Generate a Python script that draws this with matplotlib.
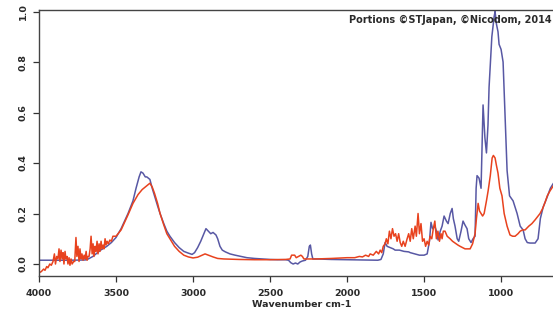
import matplotlib
matplotlib.use("Agg")
import matplotlib.pyplot as plt

plt.rcParams['font.family'] = ['DejaVu Sans']

# Blue spectrum (wavenumber, absorbance)
blue_wn = [4000, 3900, 3800, 3700, 3680, 3650, 3620, 3600, 3560, 3530, 3500, 3467, 3422, 3390,
           3370, 3350, 3338, 3325, 3310, 3300, 3290, 3280, 3265, 3250, 3230, 3214, 3190, 3170,
           3150, 3120, 3090, 3060, 3030, 3006, 2990, 2970, 2950, 2930, 2916, 2900, 2885, 2870,
           2851, 2840, 2825, 2810, 2790, 2760, 2727, 2690, 2650, 2600, 2550, 2500, 2450, 2400,
           2380, 2365, 2350, 2335, 2320, 2305, 2290, 2270, 2255, 2245, 2238, 2230, 2222, 2200,
           2100, 2000, 1900, 1800, 1780, 1765, 1753, 1740, 1720, 1700, 1688, 1660, 1630, 1600,
           1590, 1560, 1530, 1500, 1480, 1465, 1455, 1445, 1430, 1420, 1409, 1395, 1383, 1370,
           1355, 1344, 1330, 1318, 1310, 1299, 1285, 1275, 1260, 1247, 1235, 1221, 1210, 1195,
           1182, 1169, 1162, 1156, 1143, 1130, 1117, 1105, 1095, 1085, 1078, 1060, 1045, 1039,
           1030, 1020, 1013, 1000, 987, 975, 961, 945, 922, 896, 876, 857, 844, 830, 812, 779,
           760, 745, 727, 701, 680, 660, 620, 590]
blue_abs = [0.015, 0.015, 0.015, 0.016, 0.02, 0.03, 0.045, 0.055, 0.07, 0.085, 0.105, 0.14, 0.2, 0.25,
            0.3, 0.345, 0.365, 0.36, 0.345, 0.345, 0.34, 0.335, 0.3, 0.27, 0.23, 0.2, 0.16, 0.13,
            0.11, 0.085, 0.065, 0.05, 0.043, 0.038, 0.045, 0.065, 0.09, 0.12, 0.14, 0.13, 0.12, 0.125,
            0.115, 0.1, 0.07, 0.055, 0.048, 0.04, 0.035, 0.03, 0.025, 0.022, 0.02, 0.018, 0.017, 0.017,
            0.015, 0.005, 0.0, 0.004, 0.0, 0.008, 0.012, 0.015, 0.03, 0.07, 0.075, 0.04, 0.02, 0.02,
            0.018, 0.017, 0.016, 0.015, 0.018, 0.04, 0.085, 0.07, 0.065, 0.06, 0.055, 0.055, 0.05, 0.048,
            0.045, 0.04, 0.035, 0.035, 0.04, 0.09, 0.165, 0.14, 0.15, 0.13, 0.095, 0.13, 0.15, 0.19,
            0.17, 0.16, 0.2, 0.22, 0.18, 0.15, 0.1, 0.09, 0.13, 0.17, 0.155, 0.14, 0.1, 0.085,
            0.1, 0.11, 0.3, 0.35, 0.34, 0.3, 0.63, 0.5, 0.44, 0.55, 0.7, 0.9, 0.98, 1.0,
            0.95, 0.92, 0.87, 0.85, 0.8, 0.6, 0.37, 0.27, 0.25, 0.2, 0.15, 0.135, 0.1, 0.085, 0.083, 0.083,
            0.1, 0.18, 0.225, 0.265, 0.3, 0.32, 0.31, 0.3]

# Red spectrum (wavenumber, absorbance)
red_wn = [4000, 3985, 3970, 3961, 3950, 3942, 3930, 3920, 3909, 3900, 3893, 3885, 3877, 3870,
          3864, 3857, 3850, 3844, 3838, 3831, 3825, 3818, 3812, 3805, 3799, 3792, 3785, 3775,
          3768, 3760, 3754, 3747, 3740, 3734, 3727, 3721, 3714, 3707, 3701, 3694, 3688, 3682,
          3675, 3668, 3662, 3655, 3649, 3643, 3636, 3630, 3623, 3617, 3610, 3604, 3597, 3591,
          3584, 3578, 3571, 3565, 3558, 3550, 3540, 3530, 3520, 3500, 3467, 3422, 3390, 3357,
          3330, 3300, 3280, 3265, 3250, 3230, 3214, 3190, 3170, 3150, 3120, 3090, 3060, 3030,
          3000, 2970, 2940, 2922, 2900, 2870, 2840, 2800, 2700, 2600, 2500, 2400, 2370, 2360,
          2340, 2330, 2315, 2300, 2290, 2280, 2200, 2100, 2000, 1950, 1920, 1900, 1880, 1860,
          1850, 1830, 1810, 1795, 1785, 1775, 1765, 1753, 1745, 1735, 1725, 1715, 1705, 1695,
          1685, 1675, 1665, 1655, 1645, 1635, 1623, 1610, 1600, 1590, 1580, 1570, 1558, 1550,
          1539, 1530, 1520, 1510, 1500, 1490, 1480, 1470, 1461, 1450, 1440, 1430, 1420, 1410,
          1400, 1390, 1383, 1375, 1364, 1350, 1331, 1315, 1299, 1280, 1266, 1250, 1234, 1215,
          1201, 1185, 1169, 1160, 1149, 1140, 1130, 1120, 1110, 1095, 1084, 1070, 1058, 1050,
          1039, 1030, 1020, 1008, 994, 980, 961, 942, 925, 909, 890, 876, 860, 844,
          820, 800, 779, 760, 747, 730, 714, 700, 682, 660, 640, 600]
red_abs = [-0.035, -0.03, -0.02, -0.025, -0.01, -0.015, 0.0, -0.005, 0.01, 0.04, 0.0, 0.03, 0.02, 0.06,
           0.01, 0.055, 0.02, 0.045, 0.0, 0.05, 0.02, 0.03, 0.0, 0.025, -0.005, 0.02, 0.0, 0.01,
           0.01, 0.105, 0.03, 0.07, 0.01, 0.06, 0.02, 0.04, 0.015, 0.035, 0.02, 0.05, 0.015, 0.03,
           0.03, 0.06, 0.11, 0.04, 0.08, 0.03, 0.07, 0.05, 0.09, 0.04, 0.08, 0.05, 0.09, 0.06,
           0.075, 0.06, 0.1, 0.075, 0.09, 0.08, 0.095, 0.09, 0.11, 0.11, 0.135, 0.195, 0.24, 0.275,
           0.295, 0.31, 0.32, 0.305, 0.28, 0.24, 0.2, 0.155, 0.12, 0.1, 0.07, 0.05, 0.035, 0.028,
           0.024, 0.027, 0.035, 0.04, 0.035, 0.028, 0.022, 0.02, 0.018, 0.017, 0.017, 0.018, 0.02, 0.035,
           0.035, 0.025, 0.03, 0.035, 0.03, 0.02, 0.02, 0.022, 0.025, 0.025, 0.03, 0.028, 0.035, 0.03,
           0.04, 0.035, 0.05, 0.04, 0.055, 0.045, 0.07, 0.08, 0.1, 0.08, 0.13, 0.1, 0.14, 0.11,
           0.12, 0.09, 0.12, 0.085, 0.07, 0.09, 0.07, 0.1, 0.12, 0.09, 0.14, 0.1, 0.15, 0.11,
           0.2, 0.12, 0.16, 0.09, 0.1, 0.07, 0.09, 0.075, 0.11, 0.1, 0.14, 0.17, 0.1, 0.13,
           0.09, 0.12, 0.1, 0.13, 0.13, 0.11, 0.1, 0.09, 0.083, 0.075, 0.07, 0.065, 0.06, 0.06,
           0.06, 0.08, 0.12, 0.18, 0.24, 0.21, 0.2, 0.19, 0.2, 0.25, 0.29, 0.35, 0.42, 0.43,
           0.42, 0.39, 0.36, 0.3, 0.27, 0.2, 0.15, 0.115, 0.11, 0.11, 0.12, 0.13, 0.135, 0.135,
           0.15, 0.16, 0.175, 0.19, 0.2, 0.22, 0.245, 0.27, 0.29, 0.31, 0.33, 0.35]

x_ticks = [4000, 3500, 3000, 2500, 2000, 1500, 1000]
y_ticks = [0.0, 0.2, 0.4, 0.6, 0.8, 1.0]
x_label = "Wavenumber cm-1"
credit = "Portions \u00a9STJapan, \u00a9Nicodom, 2014"

W, H = 553, 315
fig = plt.figure(figsize=(W / 100, H / 100), dpi=100)
left_px, right_px, top_px, bottom_px = 39, 565, 9.5, 276
ax = fig.add_axes([left_px / W, (H - bottom_px) / H, (right_px - left_px) / W, (bottom_px - top_px) / H])

ax.plot(blue_wn, blue_abs, color='#5858a4', lw=1.1)
ax.plot(red_wn, red_abs, color='#e8421e', lw=1.1)

ax.set_xticks(x_ticks)
ax.set_yticks(y_ticks)
ax.set_xlim(4000, 585)
ax.set_ylim(-0.0475, 1.008)
ax.set_yticklabels([f"{v:.1f}" for v in y_ticks], rotation=90, va='center')
ax.tick_params(axis='both', direction='out', length=4, width=0.9, colors='#333333',
               labelsize=6.8, labelcolor='#2a2a2a')
for lbl in ax.get_xticklabels() + ax.get_yticklabels():
    lbl.set_fontweight('bold')
ax.tick_params(axis='x', pad=5)
ax.tick_params(axis='y', pad=4)
for s in ax.spines.values():
    s.set_color('#444444')
    s.set_linewidth(1.0)
ax.set_xlabel(x_label, fontsize=6.8, fontweight='bold', color='#2a2a2a', labelpad=2)

fig.text(349 / W, (H - 20) / H, credit, fontsize=7.0, fontweight='bold', color='#2a2a2a',
         va='center', ha='left')

fig.savefig("out.png", dpi=100)
